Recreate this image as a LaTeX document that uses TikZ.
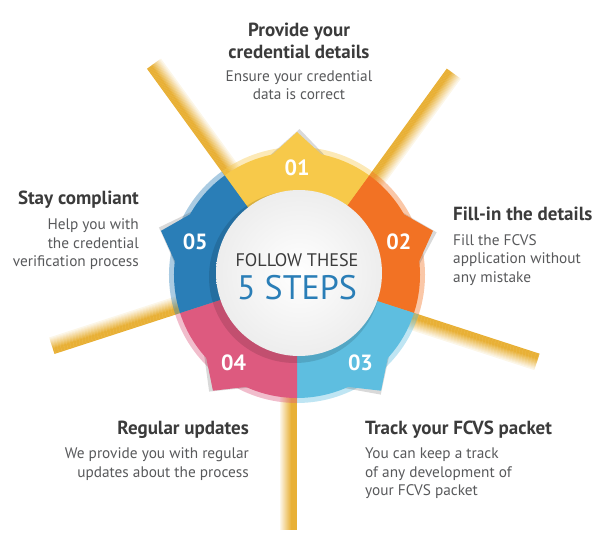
\documentclass[tikz,border=0pt]{standalone}
\usepackage{fontspec}
\setmainfont{PT Sans}
\usetikzlibrary{positioning}
\definecolor{stepyellow}{HTML}{F7C94A}
\definecolor{steporange}{HTML}{F27224}
\definecolor{steplight}{HTML}{5EBEE0}
\definecolor{steppink}{HTML}{DD5A7F}
\definecolor{stepblue}{HTML}{2A7EB7}
\definecolor{raygold}{HTML}{E8B036}
\definecolor{titlegray}{HTML}{3B3B3B}
\definecolor{textgray}{HTML}{58595B}
\begin{document}
\begin{tikzpicture}[x=1pt,y=1pt,node distance=6pt,
	title node/.style = {font=\bfseries\fontsize{19}{22}\selectfont, text=titlegray, inner sep=0pt},
	text node/.style = {font=\fontsize{15.3}{18.5}\selectfont, text=textgray, inner sep=0pt},
	number node/.style = {font=\bfseries\fontsize{22}{22}\selectfont, text=white, inner sep=0pt}]

	\useasboundingbox (-297,-271) rectangle (304,275);

	% rays behind the wheel
	\foreach \a in {126,54,-18,-90,198}
	\foreach \k in {0,...,16}{
		\pgfmathtruncatemacro\p{min(100,140-8*\k)}
		\draw[rotate=\a, raygold!\p!white, line width=1.3pt] (0,-\k-0.5) -- (255,-\k-0.5);
	}

	% light rims, tabs and ring segments
	\foreach \c/\col in {90/stepyellow,18/steporange,-54/steplight,-126/steppink,-198/stepblue}{
		\fill[\col, opacity=.4] (0,0) -- (\c+36:128) arc[start angle=\c+36, end angle=\c-36, radius=128pt] -- cycle;
		\fill[black, opacity=.15] (\c+16:119) -- (\c-1:146) -- (\c-16:119) -- cycle;
		\fill[\col] (\c+14:120) -- (\c:143) -- (\c-14:120) -- cycle;
	}
	\foreach \c/\col in {90/stepyellow,18/steporange,-54/steplight,-126/steppink,-198/stepblue}
	\fill[\col] (0,0) -- (\c+36:123) arc[start angle=\c+36, end angle=\c-36, radius=123pt] -- cycle;

	% centre disc
	\fill[black, opacity=.12] (-2,-2) circle[radius=86pt];
	\shade[inner color=white, outer color=black!7] (2,2) circle[radius=83pt];

	\node[font=\fontsize{18.2}{18}\selectfont, text=titlegray] (follow) at (0,15) {FOLLOW THESE};
	\node[font=\fontsize{34}{34}\selectfont, text=stepblue] (steps) at (0,-13) {5 STEPS};

	% step numbers
	\node[number node] (n1) at (90:107) {01};
	\node[number node] (n2) at (18:107) {02};
	\node[number node] (n3) at (-54:108) {03};
	\node[number node] (n4) at (-126:108) {04};
	\node[number node] (n5) at (-198:107) {05};

	% labels
	\node[title node, align=center] (t1) at (2,234) {Provide your\\credential details};
	\node[text node, align=center, below=11pt of t1] (d1) {Ensure your credential\\data is correct};

	\node[title node, anchor=west] (t2) at (156,61) {Fill-in the details};
	\node[text node, align=left, below=13pt of t2.south west, anchor=north west] (d2) {Fill the FCVS\\application without\\any mistake};

	\node[title node, anchor=west] (t3) at (68,-155) {Track your FCVS packet};
	\node[text node, align=left, below=9pt of t3.south west, anchor=north west] (d3) {You can keep a track\\of any development of\\your FCVS packet};

	\node[title node, anchor=east] (t4) at (-48,-155) {Regular updates};
	\node[text node, align=right, below=9pt of t4.south east, anchor=north east] (d4) {We provide you with regular\\updates about the process};

	\node[title node, anchor=east] (t5) at (-158,75) {Stay compliant};
	\node[text node, align=right, below=10pt of t5.south east, anchor=north east] (d5) {Help you with\\the credential\\verification process};

\end{tikzpicture}
\end{document}
